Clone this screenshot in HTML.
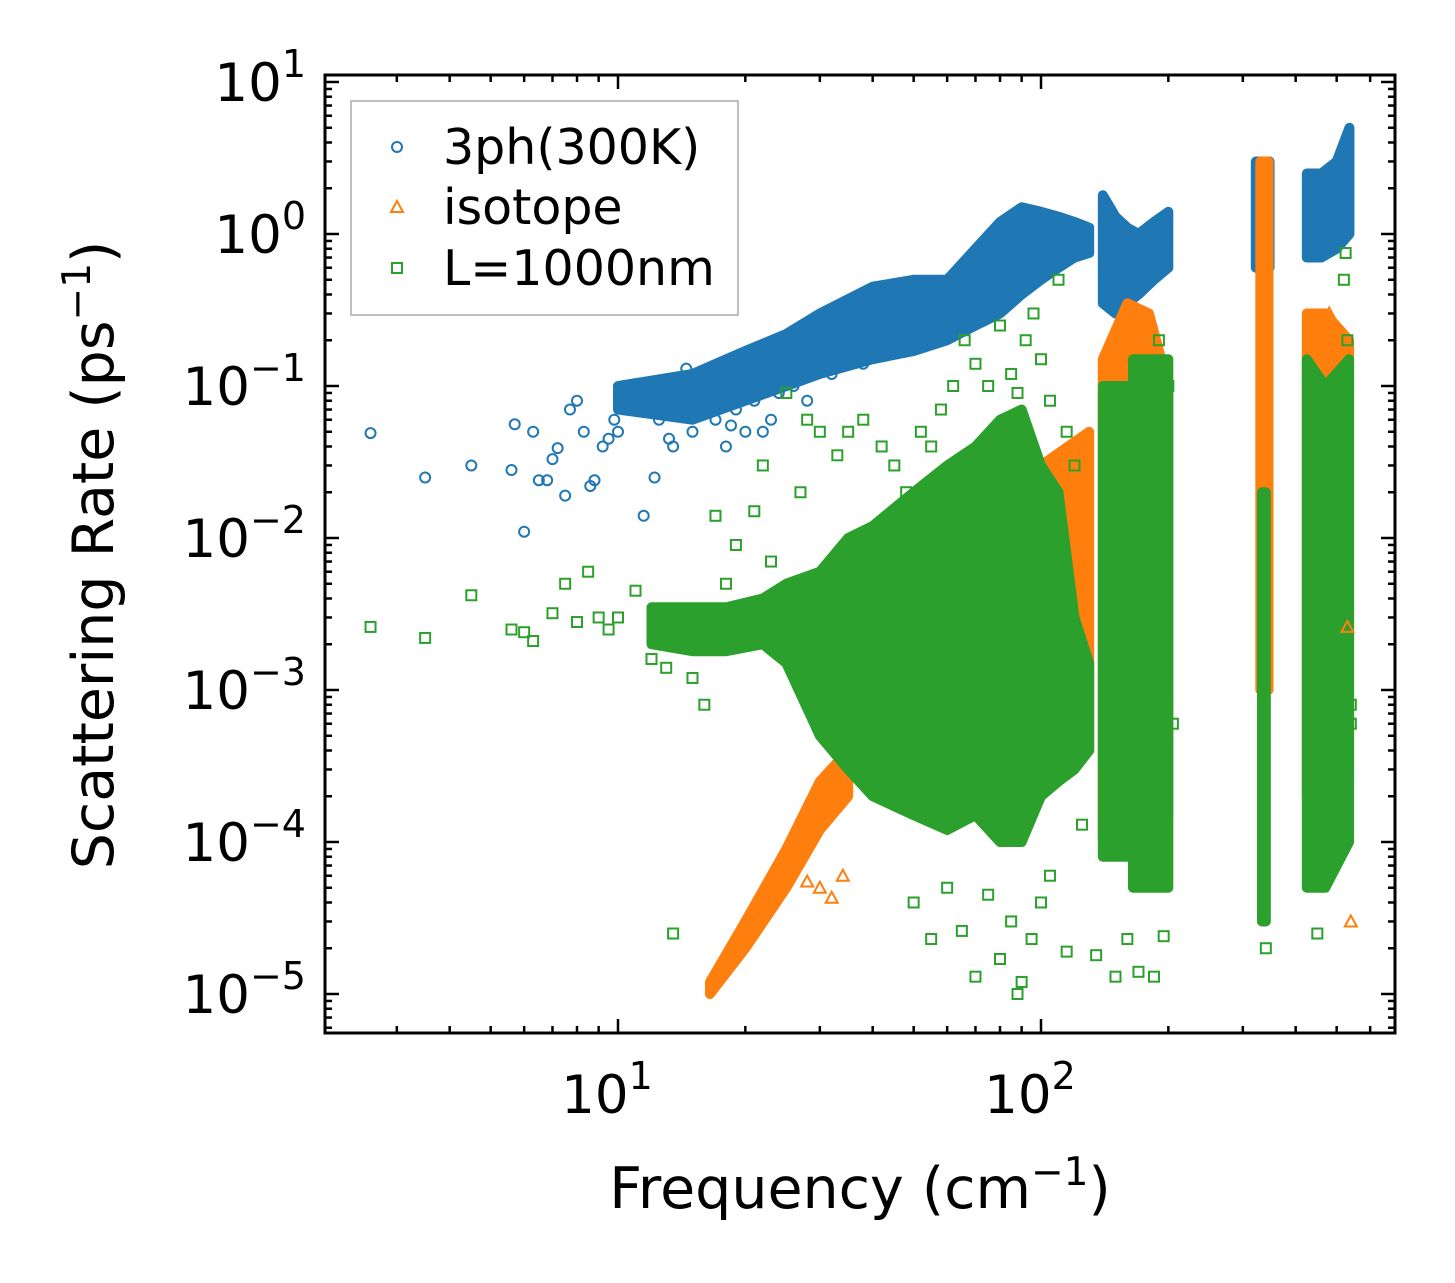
<!DOCTYPE html>
<html><head><meta charset="utf-8">
<style>
html,body{margin:0;padding:0;background:#fff;}
svg{display:block;font-family:"DejaVu Sans","Liberation Sans",sans-serif;}
</style></head>
<body>
<svg id="chart" width="1455" height="1283" viewBox="0 0 1455 1283" xmlns="http://www.w3.org/2000/svg">
<rect width="1455" height="1283" fill="#fff"/>
<g id="env"></g>
<g id="pts"></g>
<g id="axes"></g>
<text x="860" y="1208" font-size="57" text-anchor="middle">Frequency (cm<tspan dy="-23" font-size="39">−1</tspan><tspan dy="23">)</tspan></text>
<text transform="translate(113,555) rotate(-90)" font-size="57" text-anchor="middle">Scattering Rate (ps<tspan dy="-23" font-size="39">−1</tspan><tspan dy="23">)</tspan></text>
<g>
<rect x="351" y="101" width="387" height="214" fill="#fff" stroke="#aaa" stroke-width="1.5"/>
<circle cx="397" cy="147" r="5" fill="none" stroke="#1f77b4" stroke-width="2"/>
<text x="443" y="164" font-size="49">3ph(300K)</text>
<path d="M397,201 L403,212 L391,212 Z" fill="none" stroke="#ff7f0e" stroke-width="2"/>
<text x="443" y="224" font-size="49">isotope</text>
<rect x="392" y="263" width="10" height="10" fill="none" stroke="#2ca02c" stroke-width="2"/>
<text x="443" y="285" font-size="49">L=1000nm</text>
</g>
</svg>
<script>
// ---- data ----
const blueF=[2.6,3.5,4.5,5.6,5.7,6,6.3,6.5,6.8,7,7.2,7.5,7.7,8,8.3,8.6,8.8,9.2,9.5,10,10.5,11,11.5,12,12.5,13,13.5,14,15,16,17,18,19,20,21,22,24,26,28,32,38,45,12.2,14.5,16.5,10.8,9.8,13.2,18.5,23];
const blueR=[0.049,0.025,0.03,0.028,0.056,0.011,0.05,0.024,0.024,0.033,0.039,0.019,0.07,0.08,0.05,0.022,0.024,0.04,0.045,0.05,0.08,0.1,0.014,0.09,0.06,0.11,0.04,0.07,0.05,0.09,0.06,0.04,0.07,0.05,0.08,0.05,0.09,0.1,0.08,0.12,0.14,0.2,0.025,0.13,0.12,0.09,0.06,0.045,0.055,0.06];
const orangeF=[335,335,335,335,335,530,540,30,32,28,34,26,480,470,500];
const orangeR=[0.25,0.14,0.09,0.08,0.027,0.0026,3e-5,5e-5,4.3e-5,5.5e-5,6e-5,7e-5,0.3,0.25,0.2];
const greenF=[2.6,3.5,4.5,5.6,6,6.3,7,7.5,8,8.5,9,9.5,10,11,12,13,13.5,14,15,16,17,18,19,20,21,22,23,25,27,28,30,33,35,38,40,42,45,48,52,55,58,62,66,70,75,80,85,88,92,96,100,105,110,115,120,50,55,60,65,70,75,80,85,88,90,95,100,105,115,125,135,150,160,170,185,195,340,450,540,540,525,520,530,200,195,190,185,205,150];
const greenR=[0.0026,0.0022,0.0042,0.0025,0.0024,0.0021,0.0032,0.005,0.0028,0.006,0.003,0.0025,0.003,0.0045,0.0016,0.0014,2.5e-5,0.0025,0.0012,0.0008,0.014,0.005,0.009,0.002,0.015,0.03,0.007,0.09,0.02,0.06,0.05,0.035,0.05,0.06,0.01,0.04,0.03,0.02,0.05,0.04,0.07,0.1,0.2,0.14,0.1,0.25,0.12,0.09,0.2,0.3,0.15,0.08,0.5,0.05,0.03,4e-5,2.3e-5,5e-5,2.6e-5,1.3e-5,4.5e-5,1.7e-5,3e-5,1e-5,1.2e-5,2.3e-5,4e-5,6e-5,1.9e-5,1.3e-4,1.8e-5,1.3e-5,2.3e-5,1.4e-5,1.3e-5,2.4e-5,2e-5,2.5e-5,8e-4,6e-4,0.75,0.5,0.2,0.1,0.05,0.2,0.1,0.0006,0.08];
// dense clusters: freq, lower, upper
const blueClusters=[
 {f:[10,15,20,25,30,40,50,60,70,80,90,100,110,120,130],lo:[0.07,0.06,0.08,0.1,0.12,0.15,0.17,0.2,0.25,0.3,0.4,0.5,0.6,0.7,0.75],hi:[0.1,0.12,0.17,0.22,0.3,0.45,0.5,0.5,0.8,1.2,1.5,1.4,1.3,1.2,1.1]},
 {f:[140,150,160,170,185,200],lo:[0.35,0.3,0.35,0.4,0.5,0.6],hi:[1.8,1.3,1.1,1.0,1.2,1.4]},
 {f:[322,347],lo:[0.6,0.6],hi:[3,3]},
 {f:[425,460,500,536],lo:[0.7,0.7,0.8,1.0],hi:[2.5,2.5,3,5]}];
const orangeClusters=[
 {f:[16.5,20,25,30,35],lo:[1e-5,2e-5,5e-5,1.2e-4,2e-4],hi:[1.2e-5,3e-5,9e-5,2.5e-4,4e-4]},
 {f:[45,60,80,100,130],lo:[3e-4,3e-4,2e-4,3e-4,4e-4],hi:[2e-3,1e-2,1e-2,3e-2,5e-2]},
 {f:[140,160,180,200],lo:[1e-4,1e-4,1e-4,1.5e-4],hi:[0.15,0.35,0.3,0.1]},
 {f:[330,345],lo:[1e-3,1e-3],hi:[3,3]},
 {f:[425,470,535],lo:[2e-4,2e-4,3e-4],hi:[0.3,0.3,0.2]}];
const greenClusters=[
 {f:[12,15,18,22,25,30,35,40,50,60,70,80,90,100,110,120,130],lo:[2e-3,1.8e-3,1.8e-3,2e-3,1.5e-3,5e-4,3e-4,2e-4,1.5e-4,1.2e-4,1.5e-4,1e-4,1e-4,2e-4,2.5e-4,3e-4,4e-4],hi:[3.5e-3,3.5e-3,3.5e-3,4e-3,5e-3,6e-3,1e-2,1.2e-2,2e-2,3e-2,4e-2,6e-2,7e-2,3e-2,2e-2,3e-3,1.5e-3]},
 {f:[140,160],lo:[8e-5,8e-5],hi:[0.1,0.1]},
 {f:[165,200],lo:[5e-5,5e-5],hi:[0.15,0.15]},
 {f:[333,340],lo:[3e-5,3e-5],hi:[0.02,0.02]},
 {f:[425,470,535],lo:[5e-5,5e-5,1e-4],hi:[0.15,0.1,0.15]}];
const xTicks=[1,2];
const yTicks=[1,0,-1,-2,-3,-4,-5];

// ---- scales ----
const X=f=>618+423*(Math.log10(f)-1);
const Y=r=>234-152*Math.log10(r);
const L=325,R=1395,T=75,B=1033;
const NS='http://www.w3.org/2000/svg';
function mk(tag,attrs,parent){const e=document.createElementNS(NS,tag);for(const k in attrs)e.setAttribute(k,attrs[k]);parent.appendChild(e);return e;}
const env=document.getElementById('env'),pts=document.getElementById('pts'),axes=document.getElementById('axes');
const clip=mk('clipPath',{id:'pc'},document.getElementById('chart'));
mk('rect',{x:L,y:T,width:R-L,height:B-T},clip);
env.setAttribute('clip-path','url(#pc)');pts.setAttribute('clip-path','url(#pc)');

function drawClusters(cl,color,name){
 cl.forEach((c,i)=>{
  let d='';
  c.f.forEach((f,j)=>{d+=(j?'L':'M')+X(f)+','+Y(c.hi[j]);});
  for(let j=c.f.length-1;j>=0;j--)d+='L'+X(c.f[j])+','+Y(c.lo[j]);
  const p=mk('path',{d:d+'Z',fill:color,stroke:color,'stroke-width':10,'stroke-linejoin':'round'},env);
  
  
 });
}
function drawPts(F,Rv,color,shape,name){
 F.forEach((f,i)=>{
  const x=X(f),y=Y(Rv[i]);let e;
  if(shape==='c')e=mk('circle',{cx:x,cy:y,r:5,fill:'none',stroke:color,'stroke-width':2},pts);
  else if(shape==='t')e=mk('path',{d:`M${x},${y-6}L${x+6},${y+5}L${x-6},${y+5}Z`,fill:'none',stroke:color,'stroke-width':2},pts);
  else e=mk('rect',{x:x-5,y:y-5,width:10,height:10,fill:'none',stroke:color,'stroke-width':2},pts);
  
  
 });
}
drawClusters(blueClusters,'#1f77b4','3ph');
drawPts(blueF,blueR,'#1f77b4','c','3ph');
drawClusters(orangeClusters,'#ff7f0e','isotope');
drawPts(orangeF,orangeR,'#ff7f0e','t','isotope');
drawClusters(greenClusters,'#2ca02c','boundary');
drawPts(greenF,greenR,'#2ca02c','s','boundary');

// axes frame
const fr=mk('rect',{x:L,y:T,width:R-L,height:B-T,fill:'none',stroke:'#000','stroke-width':3},axes);


// x ticks
for(let d=0;d<=2;d++){for(let m=1;m<10;m++){const f=m*Math.pow(10,d);const x=X(f);if(x<L||x>R)continue;const len=m===1?14:7;
 mk('line',{x1:x,y1:B,x2:x,y2:B-len,stroke:'#000','stroke-width':2.5},axes);
 mk('line',{x1:x,y1:T,x2:x,y2:T+len,stroke:'#000','stroke-width':2.5},axes);}}
xTicks.forEach(e=>{const t=mk('text',{x:X(Math.pow(10,e))-11,y:1113,'font-size':53,'text-anchor':'middle'},axes);
 
 
 t.innerHTML='10<tspan dy="-24" font-size="38">'+e+'</tspan>';});
// y ticks
for(let d=-6;d<=1;d++){for(let m=1;m<10;m++){const y=Y(m*Math.pow(10,d));if(y<T||y>B)continue;const len=m===1?14:7;
 mk('line',{x1:L,y1:y,x2:L+len,y2:y,stroke:'#000','stroke-width':2.5},axes);
 mk('line',{x1:R,y1:y,x2:R-len,y2:y,stroke:'#000','stroke-width':2.5},axes);}}
yTicks.forEach(e=>{const t=mk('text',{x:306,y:Y(Math.pow(10,e))+19,'font-size':53,'text-anchor':'end'},axes);
 
 
 t.innerHTML='10<tspan dy="-24" font-size="38">'+(e<0?'−'+(-e):e)+'</tspan>';});
</script>
</body></html>
